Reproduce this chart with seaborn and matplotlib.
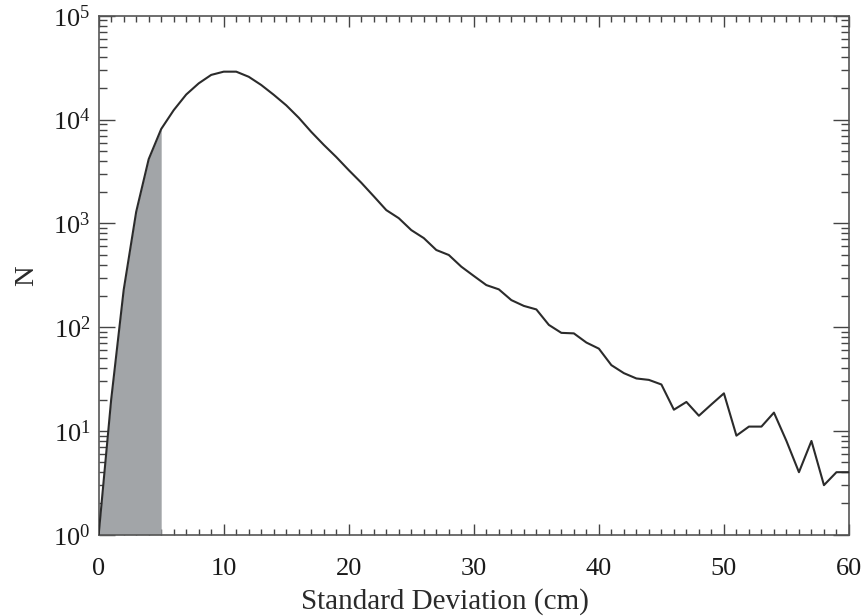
import numpy as np
import pandas as pd
import matplotlib
matplotlib.use("Agg")
import matplotlib.pyplot as plt
import seaborn as sns
from matplotlib.ticker import FixedLocator, LogLocator, FuncFormatter, MultipleLocator

# ---- data ----
std_dev_cm = list(range(0, 61))
counts = [1, 20, 228, 1290, 4150, 8100, 12300, 17400, 22300, 26900,
          28900, 28900, 25800, 21500, 17300, 13700, 10400, 7600, 5700, 4350,
          3250, 2460, 1820, 1340, 1120, 860, 720, 553, 495, 382,
          311, 254, 231, 182, 160, 148, 105, 88, 87, 71,
          62, 43, 36, 32, 31, 28, 16, 19, 14, 18,
          23, 9, 11, 11, 15, 8, 4, 8, 3, 4,
          4]
shade_limit = 5
x_ticks = [0, 10, 20, 30, 40, 50, 60]
y_decades = [0, 1, 2, 3, 4, 5]

df = pd.DataFrame({"sd": std_dev_cm, "N": counts})

sns.set_style("ticks")
plt.rcParams["font.family"] = ["Liberation Serif", "DejaVu Serif"]
plt.rcParams["mathtext.default"] = "regular"

fig = plt.figure(figsize=(8.64, 6.16), dpi=100)
ax = fig.add_axes([0.1142, 0.132, 0.8684, 0.8425])

shade = df[df["sd"] <= shade_limit]
ax.fill_between(shade["sd"], shade["N"], 1, color="#a2a5a8", linewidth=0, zorder=1)
sns.lineplot(data=df, x="sd", y="N", ax=ax, color="#2b2b2b", linewidth=1.5, zorder=3)

ax.set_yscale("log")
ax.set_xlim(0, 60)
ax.set_ylim(1, 1e5)

ax.xaxis.set_major_locator(FixedLocator(x_ticks))
ax.xaxis.set_minor_locator(MultipleLocator(1))
ax.yaxis.set_major_locator(FixedLocator([10.0 ** d for d in y_decades]))
ax.yaxis.set_minor_locator(LogLocator(base=10, subs=np.arange(2, 10)))
ax.yaxis.set_major_formatter(FuncFormatter(lambda v, p: r"$10^{%d}$" % int(round(np.log10(v)))))

ax.tick_params(axis="both", which="both", direction="in", top=True, right=True,
               colors="#444444", width=1.0, labelcolor="#1a1a1a")
ax.tick_params(axis="x", which="major", length=8, pad=17, labelsize=19)
ax.tick_params(axis="x", which="minor", length=4.3)
ax.tick_params(axis="y", which="major", length=11.5, pad=6, labelsize=19)
ax.tick_params(axis="y", which="minor", length=5.8)

for s in ax.spines.values():
    s.set_color("#555555")
    s.set_linewidth(1.2)

ax.set_xlabel("Standard Deviation (cm)", fontsize=21, color="#2a2a2a")
ax.xaxis.set_label_coords(0.4616, -0.102)
ax.set_ylabel("N", fontsize=20.5, color="#2a2a2a", labelpad=10)

fig.savefig("out.png", dpi=100, facecolor="white")
